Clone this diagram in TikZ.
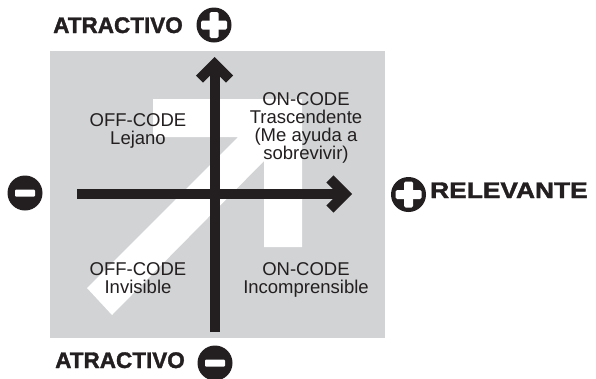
\documentclass[tikz,border=0pt]{standalone}
\usepackage{fontspec}
\setmainfont{Liberation Sans}
\newfontfamily\heavyfont[FakeBold=1.6]{Liberation Sans Bold}
\usetikzlibrary{arrows.meta}
\definecolor{panelgray}{HTML}{D1D3D4}
\definecolor{ink}{HTML}{231F20}

\begin{document}
\begin{tikzpicture}[x=1pt, y=-1pt,
  quad/.style={align=center, inner sep=0pt, anchor=north, text=ink, font=\fontsize{18.5}{18}\selectfont},
  axislabel/.style={inner sep=0pt, anchor=base west, text=ink, font=\heavyfont\fontsize{22.5}{24}\selectfont},
  sign/.style={circle, fill=ink, minimum size=35pt, inner sep=0pt},
  plussign/.style={sign, path picture={
    \fill[white, rounded corners=1.5pt] ([shift={(-4.5pt,-13pt)}]path picture bounding box.center) rectangle ++(9pt,26pt);
    \fill[white, rounded corners=1.5pt] ([shift={(-13pt,-4.5pt)}]path picture bounding box.center) rectangle ++(26pt,9pt);}},
  minussign/.style={sign, path picture={
    \fill[white, rounded corners=1pt] ([shift={(-10pt,-3.5pt)}]path picture bounding box.center) rectangle ++(20pt,7pt);}},
  axis/.style={draw=ink, line width=10pt, -{Straight Barb[length=15pt, width=30pt, line cap=butt, line join=miter]}}
]
  \useasboundingbox (0,0) rectangle (596,378);
  \fill[panelgray] (50,51) rectangle (385,338);
  \fill[white] (153,99) -- (302,99) -- (302,247) -- (264,247) -- (264,161) -- (112,315) -- (87,288) -- (238,137) -- (153,137) -- cycle;

  \node[quad] (ul) at (138,113) {OFF-CODE\\Lejano};
  \node[quad] (ur) at (306,92) {ON-CODE\\Trascendente\\(Me ayuda a\\sobrevivir)};
  \node[quad] (ll) at (138,262) {OFF-CODE\\Invisible};
  \node[quad] (lr) at (306,262) {ON-CODE\\Incomprensible};

  \coordinate (L) at (77,194);
  \coordinate (R) at (352,194);
  \coordinate (B) at (214.5,332);
  \coordinate (T) at (214.5,57);

  \draw[axis] (L) -- (R);
  \draw[axis] (B) -- (T);

  \node[minussign] (neg) at (25,193) {};
  \node[plussign] (pos) at (408.5,194.5) {};
  \node[axislabel] (rel) at (430,198) {\scalebox{1.17}[1]{RELEVANTE}};
  \node[plussign] (up) at (214,25) {};
  \node[axislabel] (att) at (53,33) {ATRACTIVO};
  \node[minussign] (down) at (215,363) {};
  \node[axislabel] (unatt) at (55,368) {ATRACTIVO};
\end{tikzpicture}
\end{document}
